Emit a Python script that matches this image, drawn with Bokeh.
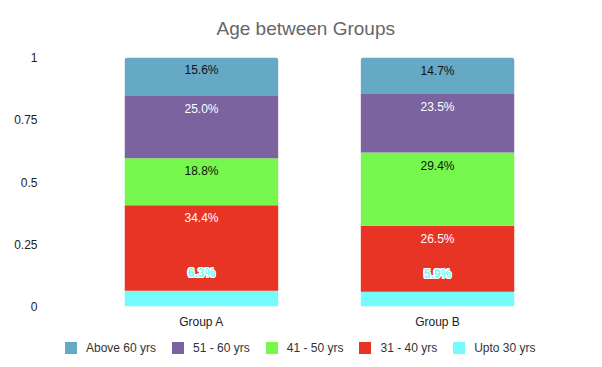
import numpy as np
from bokeh.plotting import figure
from bokeh.layouts import column
from bokeh.models import ColumnDataSource, FactorRange, Range1d, Legend, LegendItem, FixedTicker
from bokeh.embed import file_html
from bokeh.resources import INLINE
from bokeh.core.properties import value

# ---- data ----
groups = ["Group A", "Group B"]
series_names = ["Upto 30 yrs", "31 - 40 yrs", "41 - 50 yrs", "51 - 60 yrs", "Above 60 yrs"]
upto_30 = [6.3, 5.9]
yrs_31_40 = [34.4, 26.5]
yrs_41_50 = [18.8, 29.4]
yrs_51_60 = [25.0, 23.5]
above_60 = [15.6, 14.7]
y_ticks = [0, 0.25, 0.5, 0.75, 1]
y_tick_labels = ["0", "0.25", "0.5", "0.75", "1"]

colors = ["#75FBFB", "#E83425", "#77F64E", "#7B63A0", "#66A9C5"]
label_colors = ["#75FBFB", "white", "#111111", "white", "#111111"]
FONT = "Liberation Sans"

series_values = [upto_30, yrs_31_40, yrs_41_50, yrs_51_60, above_60]
frac = np.array(series_values) / 100.0
tops = np.cumsum(frac, axis=0)
bottoms = tops - frac

p = figure(
    x_range=FactorRange(*groups, range_padding=0.165, range_padding_units="absolute"),
    y_range=Range1d(0, 1),
    frame_width=550, frame_height=249,
    min_border_left=44, min_border_right=2, min_border_top=57, min_border_bottom=30,
    output_backend="svg", toolbar_location=None,
)

sources = []
for i, name in enumerate(series_names):
    src = ColumnDataSource(dict(x=groups, bottom=bottoms[i], top=tops[i]))
    sources.append(src)
    kw = {}
    if i == len(series_names) - 1:
        kw["border_radius"] = [3, 3, 0, 0]
    p.vbar(x="x", bottom="bottom", top="top", width=0.65, source=src,
           fill_color=colors[i], line_color=None, **kw)

# segment labels
for i, name in enumerate(series_names):
    texts = [f"{v:.1f}%" for v in series_values[i]]
    src = ColumnDataSource(dict(x=groups, y=tops[i], text=texts))
    if i == 0:
        for dx in (-1, 0, 1):
            for dy in (-1, 0, 1):
                if dx == 0 and dy == 0:
                    continue
                p.text(x="x", y="y", text="text", source=src, x_offset=dx, y_offset=-18 + dy,
                       text_align="center", text_baseline="middle",
                       text_font=value(FONT), text_font_size="12px", text_font_style="bold",
                       text_color="white")
        p.text(x="x", y="y", text="text", source=src, y_offset=-18,
               text_align="center", text_baseline="middle",
               text_font=value(FONT), text_font_size="12px", text_font_style="bold",
               text_color=label_colors[i])
    else:
        p.text(x="x", y="y", text="text", source=src, y_offset=13,
               text_align="center", text_baseline="middle",
               text_font=value(FONT), text_font_size="12px",
               text_color=label_colors[i])

# title
p.title.text = "Age between Groups"
p.title.align = "left"
p.title.offset = 172
p.title.vertical_align = "top"
p.title.standoff = 33
p.title.text_font = FONT
p.title.text_font_size = "19px"
p.title.text_font_style = "normal"
p.title.text_color = "#666666"

# axes
p.yaxis.ticker = FixedTicker(ticks=y_ticks)
p.yaxis.major_label_overrides = {t: l for t, l in zip(y_ticks, y_tick_labels)}
for ax in (p.xaxis, p.yaxis):
    ax.axis_line_color = None
    ax.major_tick_line_color = None
    ax.minor_tick_line_color = None
    ax.major_tick_out = 0
    ax.major_tick_in = 0
    ax.major_label_text_font = FONT
    ax.major_label_text_font_size = "12px"
    ax.major_label_text_color = "#222222"
p.yaxis.major_label_standoff = 7
p.xaxis.major_label_standoff = 8
p.xgrid.grid_line_color = None
p.ygrid.grid_line_color = None
p.outline_line_color = None

# legend strip (separate figure placed under the chart; its bars lie outside its view)
lp = figure(x_range=FactorRange(*groups), y_range=Range1d(2, 3),
            frame_width=596, frame_height=31,
            min_border_left=0, min_border_right=0, min_border_top=0, min_border_bottom=0,
            x_axis_location=None, y_axis_location=None,
            output_backend="svg", toolbar_location=None)
lp.xgrid.grid_line_color = None
lp.ygrid.grid_line_color = None
lp.outline_line_color = None
legend_renderers = []
for i, name in enumerate(series_names):
    r = lp.vbar(x="x", bottom="bottom", top="top", width=0.65, source=sources[i],
                fill_color=colors[i], line_color=None)
    legend_renderers.append(r)

items = [LegendItem(label=series_names[i], renderers=[legend_renderers[i]])
         for i in reversed(range(len(series_names)))]
legend = Legend(items=items, location=(63, 12), orientation="horizontal",
                glyph_width=15, glyph_height=15, label_standoff=8, spacing=14,
                padding=0, margin=0, border_line_color=None, background_fill_alpha=0,
                label_text_font=FONT, label_text_font_size="12px", label_text_color="#333333",
                label_height=12)
lp.add_layout(legend)

layout = column(p, lp, spacing=0)
open("out.html", "w").write(file_html(layout, INLINE))
